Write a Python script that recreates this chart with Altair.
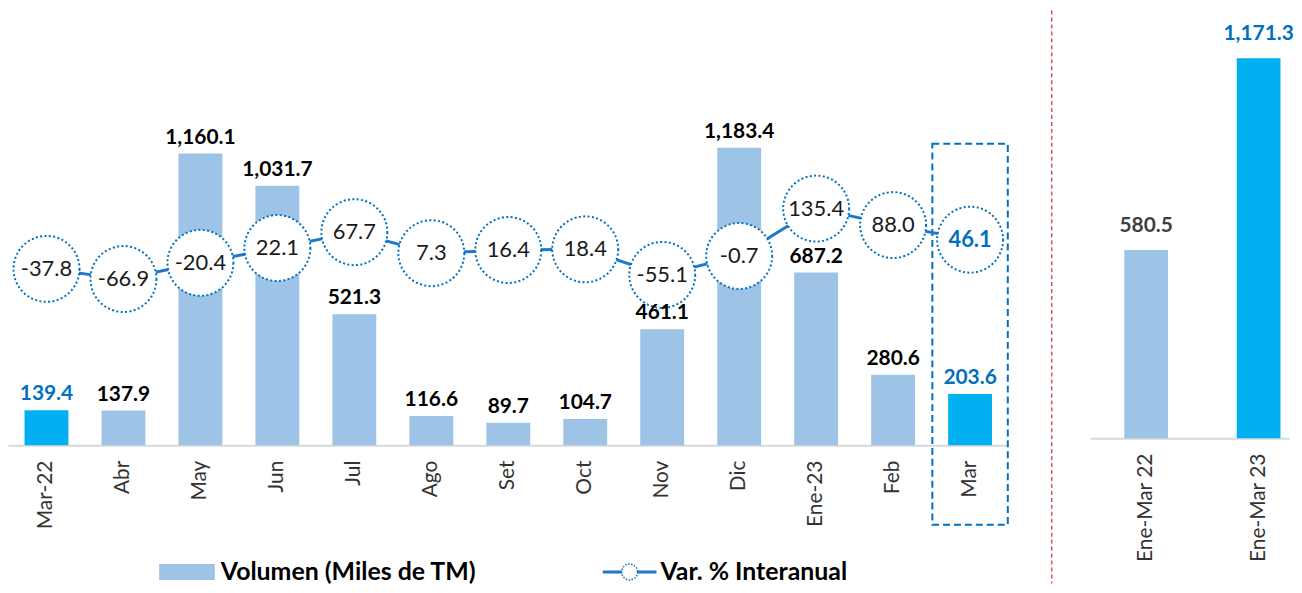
import altair as alt
import pandas as pd

# ---- data ----
meses = ["Mar-22", "Abr", "May", "Jun", "Jul", "Ago", "Set", "Oct", "Nov", "Dic", "Ene-23", "Feb", "Mar"]
volumen = [139.4, 137.9, 1160.1, 1031.7, 521.3, 116.6, 89.7, 104.7, 461.1, 1183.4, 687.2, 280.6, 203.6]
var_pct = [-37.8, -66.9, -20.4, 22.1, 67.7, 7.3, 16.4, 18.4, -55.1, -0.7, 135.4, 88.0, 46.1]
destacados = ["Mar-22", "Mar"]

acum_cat = ["Ene-Mar 22", "Ene-Mar 23"]
acum_val = [580.5, 1171.3]

legend_vol = "Volumen (Miles de TM)"
legend_var = "Var. % Interanual"

df = pd.DataFrame({"mes": meses, "vol": volumen, "var": var_pct})
df_acum = pd.DataFrame({"cat": acum_cat, "vol": acum_val})
one = pd.DataFrame({"k": [0]})

FONT = "Lato"
LIGHT = "#9DC3E6"
BRIGHT = "#00B0F0"
BLUE = "#0070C0"
LINE = "#1F78C8"

xenc = alt.X("mes:N", sort=meses,
             scale=alt.Scale(paddingInner=0.43, paddingOuter=0.215),
             axis=alt.Axis(title=None, labelAngle=270, labelAlign="right", labelBaseline="middle",
                           labelFont=FONT, labelFontSize=21, labelColor="#333333", labelPadding=15,
                           ticks=False, domainColor="#D9D9D9", domainWidth=2, grid=False))

ybar = alt.Y("vol:Q", scale=alt.Scale(domain=[0, 1729], nice=False, zero=True), axis=None)
yvar = alt.Y("var:Q", scale=alt.Scale(domain=[-544.3, 704.3], nice=False, zero=False), axis=None)

is_hi = alt.FieldOneOfPredicate(field="mes", oneOf=destacados)

base = alt.Chart(df).transform_calculate(
    var_txt="replace(format(datum.var, '.1f'), '\u2212', '-')"
)

bars = base.mark_bar().encode(
    x=xenc, y=ybar,
    color=alt.condition(is_hi, alt.value(BRIGHT), alt.value(LIGHT)),
)
bar_labels = base.mark_text(font=FONT, fontSize=21, fontWeight="bold", baseline="alphabetic", dy=-10).encode(
    x=xenc, y=ybar,
    text=alt.Text("vol:Q", format=",.1f"),
    color=alt.condition(is_hi, alt.value(BLUE), alt.value("#000000")),
)

box = base.transform_filter(alt.datum.mes == "Mar").mark_bar(
    width=alt.RelativeBandSize(1.72), fillOpacity=0, fill="white", stroke=BLUE,
    strokeWidth=2, strokeDash=[7, 4]
).encode(x=xenc, y=alt.value(134), y2=alt.value(517))

line = base.mark_line(color=LINE, strokeWidth=3).encode(x=xenc, y=yvar)
circles = base.mark_point(shape="circle", size=4400, filled=True, fill="white", opacity=1,
                          stroke=BLUE, strokeWidth=2, strokeDash=[2, 2.4]).encode(x=xenc, y=yvar)
var_labels = base.transform_filter(alt.datum.mes != "Mar").mark_text(
    font=FONT, fontSize=22, color="#1a1a1a", baseline="middle").encode(
    x=xenc, y=yvar, text=alt.Text("var_txt:N"))
var_label_hi = base.transform_filter(alt.datum.mes == "Mar").mark_text(
    font=FONT, fontSize=22, fontWeight="bold", color=BLUE, baseline="middle").encode(
    x=xenc, y=yvar, text=alt.Text("var_txt:N"))

# legend (manual)
LEG_Y = 564.5
leg = alt.Chart(one)
leg_swatch = leg.mark_rect(color=LIGHT).encode(
    x=alt.value(152), x2=alt.value(208), y=alt.value(LEG_Y - 8), y2=alt.value(LEG_Y + 8))
leg_text1 = leg.mark_text(font=FONT, fontSize=25, fontWeight="bold", align="left", baseline="middle",
                          color="#000000").encode(x=alt.value(214), y=alt.value(LEG_Y), text=alt.value(legend_vol))
leg_line = leg.mark_rule(color=LINE, strokeWidth=3).encode(
    x=alt.value(598), x2=alt.value(652), y=alt.value(LEG_Y))
leg_circle = leg.mark_point(shape="circle", size=256, filled=True, fill="white", opacity=1,
                            stroke=BLUE, strokeWidth=1.5, strokeDash=[1.5, 1.5]).encode(
    x=alt.value(625), y=alt.value(LEG_Y))
leg_text2 = leg.mark_text(font=FONT, fontSize=25, fontWeight="bold", align="left", baseline="middle",
                          color="#000000").encode(x=alt.value(656), y=alt.value(LEG_Y), text=alt.value(legend_var))
separator = leg.mark_rule(color="#C00000", strokeWidth=1, strokeDash=[4, 3]).encode(
    x=alt.value(1049.5), y=alt.value(0), y2=alt.value(576))

left = alt.layer(
    bars, box, line, circles, var_labels, var_label_hi, bar_labels,
    leg_swatch, leg_text1, leg_line, leg_circle, leg_text2, separator
).resolve_scale(y="independent").properties(width=1006, height=437)

# right panel
xr = alt.X("cat:N", sort=acum_cat,
           scale=alt.Scale(paddingInner=0.611, paddingOuter=0.19, align=0.80),
           axis=alt.Axis(title=None, labelAngle=270, labelAlign="right", labelBaseline="middle",
                         labelFont=FONT, labelFontSize=21, labelColor="#333333", labelPadding=15,
                         ticks=False, domainColor="#D9D9D9", domainWidth=2, grid=False))
yr = alt.Y("vol:Q", scale=alt.Scale(domain=[0, 1318.6], nice=False), axis=None)
is_hi_r = alt.FieldEqualPredicate(field="cat", equal="Ene-Mar 23")
rbase = alt.Chart(df_acum)
rbars = rbase.mark_bar().encode(
    x=xr, y=yr, color=alt.condition(is_hi_r, alt.value(BRIGHT), alt.value(LIGHT)))
rlabels = rbase.mark_text(font=FONT, fontSize=21, fontWeight="bold", baseline="alphabetic", dy=-18).encode(
    x=xr, y=yr, text=alt.Text("vol:Q", format=",.1f"),
    color=alt.condition(is_hi_r, alt.value(BLUE), alt.value("#404040")))
right = alt.layer(rbars, rlabels).properties(width=200, height=430)

chart = alt.hconcat(left, right, spacing=38).properties(padding=0).configure_view(stroke=None)

chart.save("out.html", embed_options={"renderer": "svg", "actions": False})
